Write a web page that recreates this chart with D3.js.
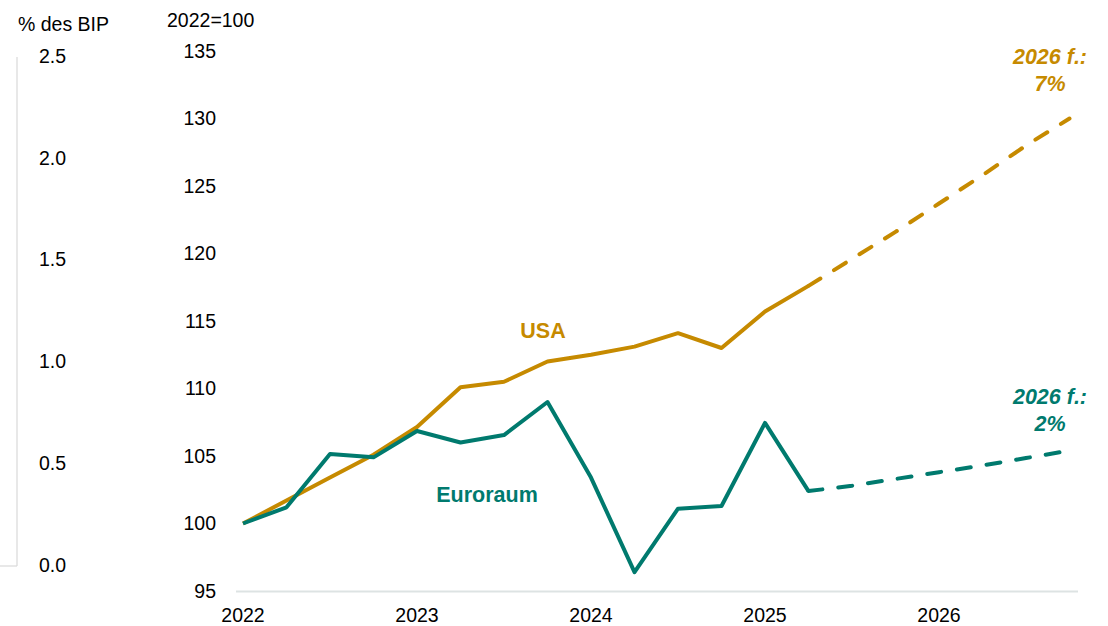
<!DOCTYPE html>
<html><head><meta charset="utf-8">
<script src="https://cdn.jsdelivr.net/npm/d3@7"></script>
<style>body{margin:0;background:#fff}svg{display:block;font-family:"Liberation Sans",Arial,sans-serif}</style>
</head><body>
<script>
// Quarterly index (2022 Q1 = 100), quarters 0..19 (2022Q1 .. 2026Q4)
const yearLabels = ["2022","2023","2024","2025","2026"];
const usaActual = [100,101.7,103.4,105.1,107.15,110.1,110.5,112.0,112.5,113.1,114.1,113.0,115.7,117.6];
const usaForecast = [117.6,119.6,121.6,123.7,125.8,128.0,130.0];
const euroActual = [100,101.2,105.15,104.9,106.85,106.0,106.55,109.0,103.4,96.4,101.1,101.3,107.45,102.4];
const euroForecast = [102.4,102.8,103.3,103.8,104.3,104.85,105.4];
const rightTicks = [95,100,105,110,115,120,125,130,135];
const leftTicks = [0.0,0.5,1.0,1.5,2.0,2.5];

const W=1108,H=626;
const usaColor="#C68A00", euroColor="#007A6E";
const fs=19.5, fsb=21.5;
const svg=d3.select("body").append("svg").attr("width",W).attr("height",H);

const x=d3.scaleLinear().domain([0,19]).range([243,1069.5]);
const y=d3.scaleLinear().domain([95,135]).range([591,51]);
const yL=d3.scaleLinear().domain([0,2.5]).range([565,56]);

// left (empty) axis frame
svg.append("line").attr("x1",17).attr("x2",17).attr("y1",57).attr("y2",566).attr("stroke","#d9d9d9").attr("stroke-width",1.2);
svg.append("line").attr("x1",0).attr("x2",17).attr("y1",566).attr("y2",566).attr("stroke","#d9d9d9").attr("stroke-width",1.2);
svg.append("g").selectAll("text").data(leftTicks).join("text")
  .attr("x",66).attr("y",d=>yL(d)).attr("dy","0.35em").attr("text-anchor","end")
  .attr("font-size",fs).attr("fill","#000").text(d=>d.toFixed(1));
svg.append("text").attr("x",18).attr("y",31).attr("font-size",fs).text("% des BIP");

// right axis labels
svg.append("g").selectAll("text").data(rightTicks).join("text")
  .attr("x",216).attr("y",d=>y(d)).attr("dy","0.35em").attr("text-anchor","end")
  .attr("font-size",fs).text(d=>d);
svg.append("text").attr("x",167).attr("y",27).attr("font-size",fs).text("2022=100");

// x axis
svg.append("line").attr("x1",236).attr("x2",1078).attr("y1",591.5).attr("y2",591.5).attr("stroke","#dde3e3").attr("stroke-width",2);
svg.append("g").selectAll("text").data(yearLabels).join("text")
  .attr("x",(d,i)=>x(i*4)).attr("y",622).attr("text-anchor","middle")
  .attr("font-size",fs).text(d=>d);

const line=d3.line().x(d=>x(d[0])).y(d=>y(d[1]));
function draw(vals,start,color,dashed){
  svg.append("path").datum(vals.map((v,i)=>[start+i,v])).attr("d",line)
    .attr("fill","none").attr("stroke",color).attr("stroke-width",4)
    .attr("stroke-linejoin","round").attr("stroke-linecap",dashed?"round":"butt")
    .attr("stroke-dasharray",dashed?"14,16":null);
}
draw(usaForecast,13,usaColor,true);
draw(euroForecast,13,euroColor,true);
draw(usaActual,0,usaColor,false);
draw(euroActual,0,euroColor,false);

function label(t,cx,cy,color,italic){
  svg.append("text").attr("x",cx).attr("y",cy).attr("dy","0.35em").attr("text-anchor","middle")
    .attr("font-size",fsb).attr("font-weight","bold").attr("font-style",italic?"italic":"normal")
    .attr("fill",color).text(t);
}
label("USA",543,330,usaColor,false);
label("Euroraum",487,494,euroColor,false);
label("2026 f.:",1050,56,usaColor,true);
label("7%",1050,83,usaColor,true);
label("2026 f.:",1050,396,euroColor,true);
label("2%",1050,423,euroColor,true);
</script>
</body></html>
